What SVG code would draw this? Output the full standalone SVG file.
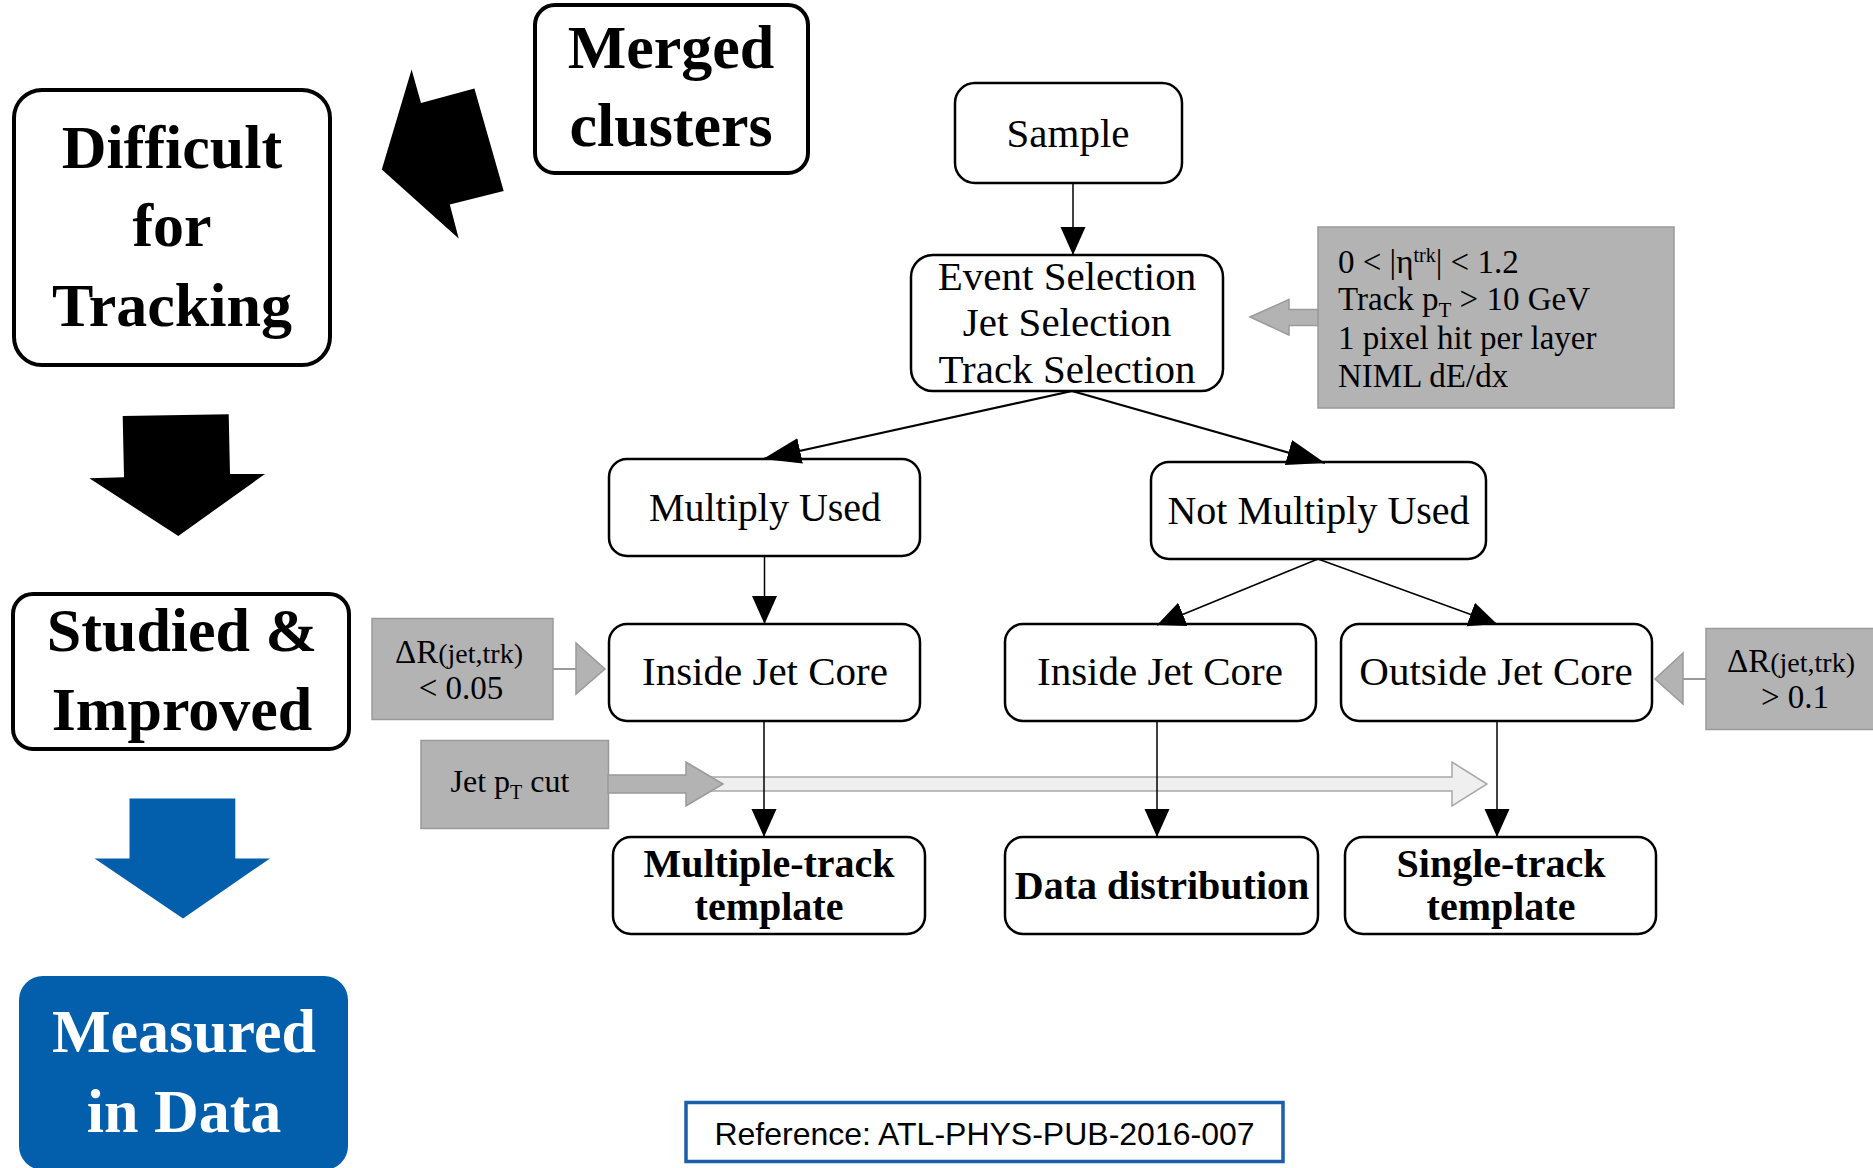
<svg xmlns="http://www.w3.org/2000/svg" width="1873" height="1168" viewBox="0 0 1873 1168">
<style>
.big{fill:#fff;stroke:#000;stroke-width:4}
.box{fill:#fff;stroke:#000;stroke-width:2.5}
.gray{fill:#b3b3b3;stroke:#9a9a9a;stroke-width:1.5}
.t{font-family:"Liberation Serif","Times New Roman",serif;fill:#000}
.tb{font-family:"Liberation Serif","Times New Roman",serif;font-weight:bold;fill:#000}
.c{text-anchor:middle}
.ln{stroke:#000;stroke-width:1.5;fill:none}
.lnb{stroke:#000;stroke-width:2.2;fill:none}
</style>
<defs>
<marker id="ah" markerUnits="userSpaceOnUse" markerWidth="28" markerHeight="26" refX="28" refY="12.5" orient="auto">
<path d="M0,0 L28,12.5 L0,25 z" fill="#000"/>
</marker>
<marker id="ahb" markerUnits="userSpaceOnUse" markerWidth="38" markerHeight="27" refX="38" refY="13" orient="auto">
<path d="M0,0 L38,13 L0,26 z" fill="#000"/>
</marker>
</defs>
<rect width="1873" height="1168" fill="#fff"/>

<g id="difficult">
<rect class="big" x="14" y="90" width="316" height="275" rx="28"/>
<text class="tb c" font-size="62" x="172" y="168">Difficult</text>
<text class="tb c" font-size="62" x="172" y="246">for</text>
<text class="tb c" font-size="62" x="172" y="326">Tracking</text>
</g>
<g id="merged">
<rect class="big" x="535" y="5" width="273" height="168" rx="20"/>
<text class="tb c" font-size="62" x="671" y="68">Merged</text>
<text class="tb c" font-size="62" x="671" y="146">clusters</text>
</g>
<g id="studied">
<rect class="big" x="13" y="594" width="336" height="155" rx="20"/>
<text class="tb c" font-size="62" x="182" y="651">Studied &amp;</text>
<text class="tb c" font-size="62" x="182" y="730">Improved</text>
</g>
<g id="measured">
<rect x="19" y="976" width="329" height="194" rx="24" fill="#035eab"/>
<text class="tb c" font-size="62" x="184" y="1052" style="fill:#fff">Measured</text>
<text class="tb c" font-size="62" x="184" y="1132" style="fill:#fff">in Data</text>
</g>
<g id="big-arrows">
<polygon points="411.6,69.6 421,103 474.4,88.6 503.7,191 449.8,204.6 458.7,238.6 381.8,169.6" fill="#000"/>
<polygon points="122.7,416 228.7,414.3 230,474 265,474 178.3,536 89.3,478.3 124,477.3" fill="#000"/>
<polygon points="129.5,798.4 235.3,798.4 235.3,858.4 270,858.4 183,918.5 94.6,858.4 129.5,858.4" fill="#035eab"/>
</g>

<g id="sample">
<rect class="box" x="955" y="83" width="227" height="100" rx="20"/>
<text class="t c" font-size="41" x="1068" y="147">Sample</text>
</g>
<g id="selection">
<rect class="box" x="911" y="255" width="312" height="136" rx="22"/>
<text class="t c" font-size="41" x="1067" y="290">Event Selection</text>
<text class="t c" font-size="41" x="1067" y="336">Jet Selection</text>
<text class="t c" font-size="41" x="1067" y="383">Track Selection</text>
</g>
<g id="criteria">
<rect class="gray" x="1318" y="227" width="356" height="181"/>
<text class="t" font-size="33" x="1338" y="273">0 &lt; |η<tspan font-size="20" dy="-11">trk</tspan><tspan dy="11">| &lt; 1.2</tspan></text>
<text class="t" font-size="33" x="1338" y="310">Track p<tspan font-size="21" dy="7">T</tspan><tspan dy="-7"> &gt; 10 GeV</tspan></text>
<text class="t" font-size="33" x="1338" y="349">1 pixel hit per layer</text>
<text class="t" font-size="33" x="1338" y="387">NIML dE/dx</text>
</g>
<g id="multiply-used">
<rect class="box" x="609" y="459" width="311" height="97" rx="18"/>
<text class="t c" font-size="40" x="765" y="521">Multiply Used</text>
</g>
<g id="not-multiply-used">
<rect class="box" x="1151" y="462" width="335" height="97" rx="18"/>
<text class="t c" font-size="40" x="1318.5" y="524">Not Multiply Used</text>
</g>
<g id="inside-left">
<rect class="box" x="609" y="624" width="311" height="97" rx="18"/>
<text class="t c" font-size="41" x="765" y="685">Inside Jet Core</text>
</g>
<g id="inside-mid">
<rect class="box" x="1005" y="624" width="311" height="97" rx="18"/>
<text class="t c" font-size="41" x="1160" y="685">Inside Jet Core</text>
</g>
<g id="outside">
<rect class="box" x="1341" y="624" width="311" height="97" rx="18"/>
<text class="t c" font-size="41" x="1496" y="685">Outside Jet Core</text>
</g>
<g id="multiple-track">
<rect class="box" x="613" y="837" width="312" height="97" rx="18"/>
<text class="tb c" font-size="40" x="769" y="877">Multiple-track</text>
<text class="tb c" font-size="40" x="769" y="920">template</text>
</g>
<g id="data-distribution">
<rect class="box" x="1005" y="837" width="313" height="97" rx="18"/>
<text class="tb c" font-size="40" x="1162" y="899">Data distribution</text>
</g>
<g id="single-track">
<rect class="box" x="1345" y="837" width="311" height="97" rx="18"/>
<text class="tb c" font-size="40" x="1501" y="877">Single-track</text>
<text class="tb c" font-size="40" x="1501" y="920">template</text>
</g>
<g id="dr-left">
<rect class="gray" x="372" y="618.5" width="181" height="101"/>
<text class="t c" font-size="33" x="459" y="663">ΔR<tspan font-size="28">(jet,trk)</tspan></text>
<text class="t c" font-size="33" x="461" y="699">&lt; 0.05</text>
</g>
<g id="dr-right">
<rect class="gray" x="1706" y="628.5" width="172" height="101"/>
<text class="t c" font-size="33" x="1791" y="672">ΔR<tspan font-size="28">(jet,trk)</tspan></text>
<text class="t c" font-size="33" x="1795" y="708">&gt; 0.1</text>
</g>
<g id="jet-pt">
<rect class="gray" x="421" y="740.5" width="187.5" height="88"/>
<text class="t c" font-size="32" x="510" y="792">Jet p<tspan font-size="20" dy="7">T</tspan><tspan dy="-7"> cut</tspan></text>
</g>

<g id="cut-arrows">
<polygon points="1250,317 1289,299.5 1289,309.5 1318,309.5 1318,325.5 1289,325.5 1289,335" fill="#b3b3b3" stroke="#9a9a9a" stroke-width="1.5"/>
<line x1="553" y1="669" x2="576" y2="669" stroke="#9a9a9a" stroke-width="2"/>
<polygon points="576,643 605,669 576,694" fill="#b3b3b3" stroke="#9a9a9a" stroke-width="1.5"/>
<line x1="1706" y1="679" x2="1683" y2="679" stroke="#9a9a9a" stroke-width="2"/>
<polygon points="1683,653 1655,679 1683,704" fill="#b3b3b3" stroke="#9a9a9a" stroke-width="1.5"/>
<polygon points="705,777 1452,777 1452,762 1487,784 1452,806 1452,791 705,791" fill="#efefef" stroke="#a8a8a8" stroke-width="1.5"/>
<polygon points="608,775 686,775 686,762 723,784 686,806 686,793 608,793" fill="#b3b3b3" stroke="#9a9a9a" stroke-width="1.5"/>
</g>

<g id="connectors">
<line class="ln" x1="1073" y1="183" x2="1073" y2="255" marker-end="url(#ah)"/>
<line class="lnb" x1="1072" y1="391" x2="763" y2="459" marker-end="url(#ahb)"/>
<line class="lnb" x1="1072" y1="391" x2="1325" y2="463" marker-end="url(#ahb)"/>
<line class="ln" x1="764.5" y1="556" x2="764.5" y2="624" marker-end="url(#ah)"/>
<line class="ln" x1="1318" y1="559" x2="1157" y2="625" marker-end="url(#ah)"/>
<line class="ln" x1="1318" y1="559" x2="1497" y2="624" marker-end="url(#ah)"/>
<line class="ln" x1="764" y1="721" x2="764" y2="837" marker-end="url(#ah)"/>
<line class="ln" x1="1157" y1="721" x2="1157" y2="837" marker-end="url(#ah)"/>
<line class="ln" x1="1497" y1="721" x2="1497" y2="837" marker-end="url(#ah)"/>
</g>

<g id="reference">
<rect x="686" y="1102.5" width="597" height="59" fill="#fff" stroke="#1b5fab" stroke-width="3.5"/>
<text x="984.5" y="1145" font-family="'Liberation Sans',Arial,sans-serif" font-size="32" text-anchor="middle" fill="#000">Reference: ATL-PHYS-PUB-2016-007</text>
</g>
</svg>
